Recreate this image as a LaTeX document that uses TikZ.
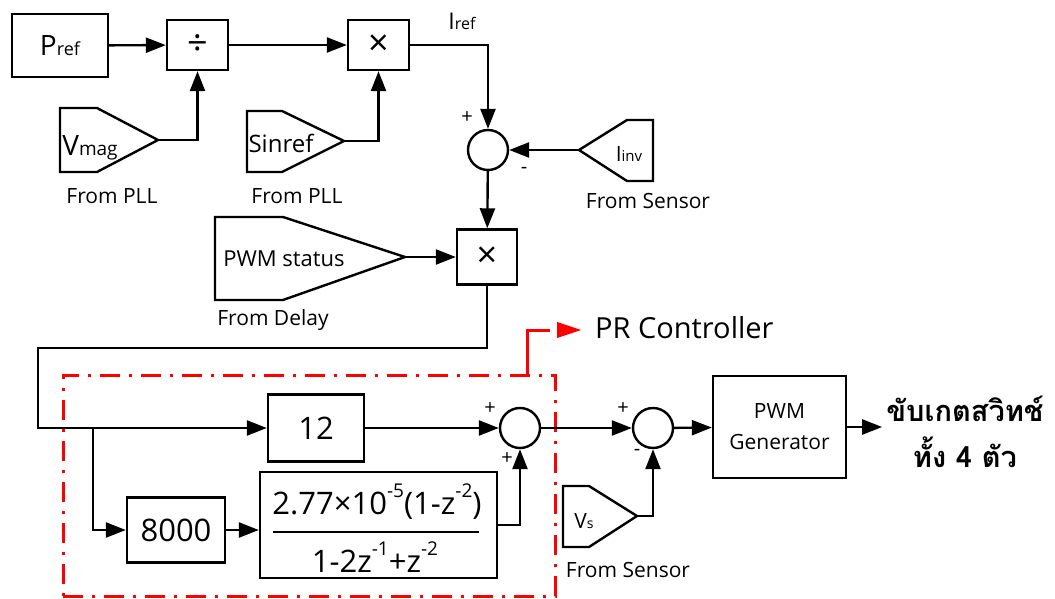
\documentclass[tikz,border=0pt]{standalone}
\usepackage{fontspec}
\setmainfont{Open Sans}
\newfontfamily\thaifont[Script=Thai]{Loma}
\usetikzlibrary{positioning,calc,arrows.meta}

\newcommand{\fs}[1]{\fontsize{#1}{#1}\selectfont}
\newcommand{\sx}[1]{\raisebox{17pt}{\fs{19}#1}}

\begin{document}
\begin{tikzpicture}[
  x=1pt, y=-1pt,
  line width=2.4pt,
  font=\fs{21},
  box/.style={draw, line width=2.4pt, inner sep=0pt, align=center},
  sumnode/.style={draw, circle, line width=2.4pt, minimum size=40pt, inner sep=0pt},
  lbl/.style={inner sep=0pt},
  sgn/.style={inner sep=0pt, font=\fs{20}},
  arr/.style={-{Triangle[length=20pt, width=15pt]}, line width=2.4pt},
  prframe/.style={draw=red, line width=3pt,
                  dash pattern=on 20pt off 9pt on 3pt off 9pt},
]
\useasboundingbox (0,0) rectangle (1055,599);

% upper part: reference current
\node[box, minimum width=96pt, minimum height=63pt] (pref) at (60,45.5)
  {\fs{28}P{\fs{18}ref}};
\node[box, minimum width=61pt, minimum height=50pt] (div) at (197.5,45) {\fs{36}÷};
\node[box, minimum width=61pt, minimum height=50pt] (mula) at (378.5,45) {\fs{36}×};
\node[lbl] (iref) at (462,21) {\fs{23}I{\fs{16}ref}};
\node[sumnode] (sumi) at (488,150) {};
\node[sgn] at (467,118) {+};
\node[sgn] at (524,170) {-};

\draw (60,108) -- (97,108) -- (158,140) coordinate (vmagtip) -- (97,172) -- (60,172) -- cycle;
\node[lbl] (vmag) at (90,148) {\fs{28}V{\fs{19}mag}};
\node[lbl] (plla) at (112,196) {From PLL};

\draw (247,111) -- (282,111) -- (344,141) coordinate (sintip) -- (282,172) -- (247,172) -- cycle;
\node[lbl] (sinref) at (281,143) {\fs{24}Sinref};
\node[lbl] (pllb) at (297,196) {From PLL};

\draw (579,150) coordinate (iinvtip) -- (627,120) -- (653,120) -- (653,181) -- (627,181) -- cycle;
\node[lbl] (iinv) at (629,154) {\fs{21}I{\fs{15}inv}};
\node[lbl] (sensa) at (648,201) {From Sensor};

\draw (215,217) -- (283,217) -- (405,257) coordinate (pwmtip) -- (283,300) -- (215,300) -- cycle;
\node[lbl] (pwmst) at (284,259) {\fs{22}PWM status};
\node[lbl] (delay) at (273,320) {From Delay};

\node[box, minimum width=60pt, minimum height=55pt] (mulb) at (487,257) {\fs{36}×};

\draw[arr] (pref) -- (div);
\draw[arr] (div) -- (mula);
\draw[arr] (mula.east) -| (sumi.north);
\draw[arr] (vmagtip) -| (div.south);
\draw[arr] (sintip) -| (mula.south);
\draw[arr] (iinvtip) -- (sumi.east);
\draw[arr] (sumi) -- (mulb);
\draw[arr] (pwmtip) -- (mulb.west);

% PR controller
\node[prframe, minimum width=492pt, minimum height=221pt] (prbox) at (309,485.5) {};
\coordinate (prtap) at (527,375);
\coordinate (prturn) at (550,330);
\draw[red, line width=3pt] (prtap) |- (prturn);
\fill[red] (557,322) -- (581,330) -- (557,338) -- cycle;
\node[lbl, anchor=west] (prlbl) at (594,328) {\fs{29}PR Controller};

\node[box, minimum width=96pt, minimum height=67pt] (kp) at (316,428) {\fs{31}12};
\node[box, minimum width=98pt, minimum height=65pt] (gain) at (176,530) {\fs{31}8000};
\node[box, minimum width=237pt, minimum height=106pt] (res) at (378.5,525) {};
\node[lbl] (num) at (377,502) {\fs{31}2.77×10\sx{-5}(1-z\sx{-2})};
\node[lbl] (den) at (375,557) {\fs{31}1-2z\sx{-1}+z\sx{-2}};
\draw (273,532) -- (479,532);
\node[sumnode] (sumpr) at (520,428) {};
\node[sgn] at (490,409) {+};
\node[sgn] at (507,459) {+};

\coordinate (loopl) at (38,348);
\coordinate (split) at (93,428);
\draw[arr] (mulb.south) |- (loopl) |- (kp.west);
\draw[arr] (split) |- (gain.west);
\draw[arr] (gain.east) -- (gain.east -| res.west);
\draw[arr] (res.east) -| (sumpr.south);
\draw[arr] (kp) -- (sumpr);

% voltage loop and PWM
\node[sumnode] (sumv) at (653,428) {};
\node[sgn] at (623,409) {+};
\node[sgn] at (637,452) {-};
\draw (563,486) -- (589,486) -- (637,516) coordinate (vstip) -- (589,547) -- (563,547) -- cycle;
\node[lbl] (vs) at (584,521) {\fs{21}V{\fs{14}s}};
\node[lbl] (sensb) at (628,570) {From Sensor};

\node[box, minimum width=133pt, minimum height=102pt] (pwmgen) at (779.5,427)
  {PWM\\[10pt]Generator};
\node[lbl, align=center, font=\thaifont\bfseries\fontsize{29}{46}\selectfont] (gate)
  at (965,432) {ขับเกตสวิทช์\\ทั้ง 4 ตัว};

\draw[arr] (sumpr) -- (sumv);
\draw[arr] (vstip) -| (sumv.south);
\draw[arr] (sumv) -- (pwmgen);
\draw[arr] (pwmgen.east) -- ([xshift=-3pt]gate.west |- pwmgen.east);
\end{tikzpicture}
\end{document}
